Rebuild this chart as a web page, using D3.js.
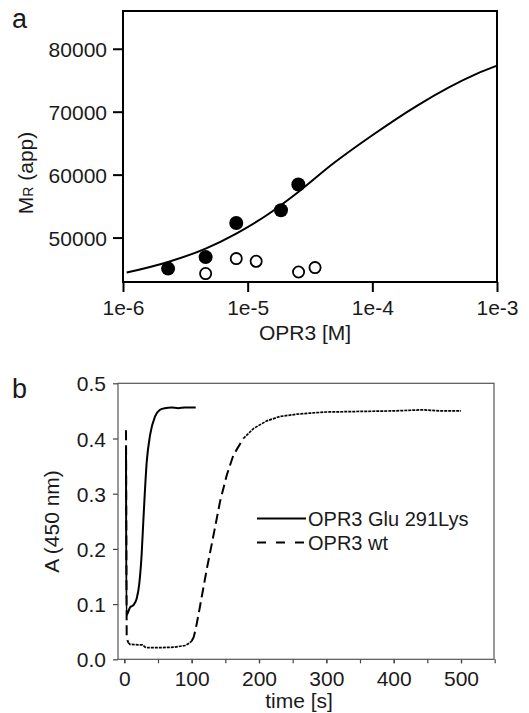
<!DOCTYPE html>
<html>
<head>
<meta charset="utf-8">
<script src="https://cdn.jsdelivr.net/npm/d3@7"></script>
<style>
  body { margin: 0; background: #fff; }
  svg { display: block; font-family: "Liberation Sans", Arial, sans-serif; }
  text { fill: #1a1a1a; }
</style>
</head>
<body>
<svg id="chart" width="529" height="713"></svg>
<script>
// ---- panel a data ----
const concTicks = [1e-6, 1e-5, 1e-4, 1e-3];
const concTickLabels = ["1e-6", "1e-5", "1e-4", "1e-3"];
const mrTicks = [50000, 60000, 70000, 80000];

const concFilled = [2.3e-6, 4.6e-6, 8.1e-6, 1.85e-5, 2.55e-5];
const mrFilled = [45070, 46900, 52320, 54340, 58430];

const concOpen = [4.6e-6, 8.1e-6, 1.17e-5, 2.56e-5, 3.47e-5];
const mrOpen = [44280, 46660, 46230, 44530, 45230];

const fitConc = [1.07e-6, 2.3e-6, 4.6e-6, 8.1e-6, 1.42e-5, 2.55e-5, 4.85e-5, 1e-4, 2.26e-4, 6.85e-4, 1e-3];
const fitMr = [44436, 46120, 48250, 50640, 53550, 57250, 61760, 66260, 70900, 76000, 77310];

// ---- panel b data ----
const timeTicks = [0, 100, 200, 300, 400, 500];
const timeMinor = [0, 50, 100, 150, 200, 250, 300, 350, 400, 450, 500, 550];
const absTicks = [0, 0.1, 0.2, 0.3, 0.4, 0.5];

const tMut = [2.5, 3, 8.5, 13.4, 18.4, 22.3, 25.8, 28.2, 33.3, 38.2, 45.6, 53, 60, 70, 80, 90, 100, 106];
const aMut = [0.385, 0.08, 0.094, 0.098, 0.110, 0.138, 0.192, 0.25, 0.358, 0.406, 0.440, 0.452, 0.455, 0.456, 0.455, 0.456, 0.456, 0.456];

const tWt = [2.5, 3.5, 6, 8.5, 27, 31, 35, 50, 75, 90, 95, 100, 103, 106, 110, 122.4, 132.3, 142.2, 152.2, 162, 176.8, 191.7, 211.6, 231.4, 256, 276, 300, 350, 400, 444, 470, 500];
const aWt = [0.415, 0.038, 0.030, 0.027, 0.026, 0.022, 0.021, 0.021, 0.022, 0.025, 0.028, 0.033, 0.040, 0.055, 0.080, 0.163, 0.224, 0.286, 0.334, 0.370, 0.400, 0.418, 0.432, 0.440, 0.444, 0.446, 0.448, 0.449, 0.450, 0.452, 0.450, 0.450];

const legendNames = ["OPR3 Glu 291Lys", "OPR3 wt"];

const svg = d3.select("#chart");
svg.append("rect").attr("width", 529).attr("height", 713).attr("fill", "#fff");

// ================= panel a =================
const ax = d3.scaleLog().domain([1e-6, 1e-3]).range([123, 497]);
const ay = d3.scaleLinear().domain([42940, 86000]).range([282, 11]);

const ga = svg.append("g");

// x axis
ga.append("g")
    .attr("transform", "translate(0,282)")
    .call(d3.axisBottom(ax).tickValues(concTicks).tickFormat((d, i) => concTickLabels[i]).tickSize(10).tickSizeOuter(0))
    .call(g => g.select(".domain").remove())
    .call(g => g.selectAll("line").attr("stroke", "#000").attr("stroke-width", 2))
    .call(g => g.selectAll("text").attr("font-size", 21).attr("dy", "0.95em").attr("fill", "#1a1a1a"));

// y axis
ga.append("g")
    .attr("transform", "translate(123,0)")
    .call(d3.axisLeft(ay).tickValues(mrTicks).tickFormat(d3.format("d")).tickSize(10).tickSizeOuter(0))
    .call(g => g.select(".domain").remove())
    .call(g => g.selectAll("line").attr("stroke", "#000").attr("stroke-width", 2))
    .call(g => g.selectAll("text").attr("font-size", 21).attr("x", -16).attr("dy", "0.36em").attr("fill", "#1a1a1a"));

// fit curve
ga.append("path")
    .datum(fitConc.map((c, i) => [c, fitMr[i]]))
    .attr("fill", "none")
    .attr("stroke", "#000")
    .attr("stroke-width", 2)
    .attr("d", d3.line().x(d => ax(d[0])).y(d => ay(d[1])).curve(d3.curveMonotoneX));

// open circles
ga.append("g").selectAll("circle")
    .data(concOpen.map((c, i) => [c, mrOpen[i]]))
    .join("circle")
    .attr("cx", d => ax(d[0]))
    .attr("cy", d => ay(d[1]))
    .attr("r", 5.6)
    .attr("fill", "#fff")
    .attr("stroke", "#000")
    .attr("stroke-width", 1.8);

// filled circles
ga.append("g").selectAll("circle")
    .data(concFilled.map((c, i) => [c, mrFilled[i]]))
    .join("circle")
    .attr("cx", d => ax(d[0]))
    .attr("cy", d => ay(d[1]))
    .attr("r", 7)
    .attr("fill", "#000");

// frame
ga.append("rect")
    .attr("x", 123).attr("y", 11).attr("width", 374).attr("height", 271)
    .attr("fill", "none").attr("stroke", "#000").attr("stroke-width", 2);

ga.append("text").attr("x", 305).attr("y", 340).attr("text-anchor", "middle").attr("font-size", 21).text("OPR3 [M]");

const ylabA = ga.append("text")
    .attr("transform", "translate(33,173) rotate(-90)")
    .attr("text-anchor", "middle")
    .attr("font-size", 21);
ylabA.append("tspan").text("M");
ylabA.append("tspan").attr("font-size", 14).text("R");
ylabA.append("tspan").text(" (app)");

svg.append("text").attr("x", 12).attr("y", 28).attr("font-size", 27).text("a");

// ================= panel b =================
const bx = d3.scaleLinear().domain([-9.4, 549]).range([118, 494]);
const by = d3.scaleLinear().domain([0, 0.5]).range([659.3, 383.3]);

const gb = svg.append("g");

gb.append("g")
    .attr("transform", "translate(0,659.3)")
    .call(d3.axisBottom(bx).tickValues(timeMinor).tickFormat("").tickSize(4).tickSizeOuter(0))
    .call(g => g.select(".domain").remove())
    .call(g => g.selectAll("line").attr("stroke", "#444").attr("stroke-width", 1.2));

gb.append("g")
    .attr("transform", "translate(0,659.3)")
    .call(d3.axisBottom(bx).tickValues(timeTicks).tickFormat(d3.format("d")).tickSize(4).tickSizeOuter(0))
    .call(g => g.select(".domain").remove())
    .call(g => g.selectAll("line").attr("stroke", "#444").attr("stroke-width", 1.2))
    .call(g => g.selectAll("text").attr("font-size", 21).attr("y", 12).attr("dy", "0.71em").attr("fill", "#1a1a1a"));

gb.append("g")
    .attr("transform", "translate(118,0)")
    .call(d3.axisLeft(by).tickValues(absTicks).tickFormat(d3.format(".1f")).tickSize(5).tickSizeOuter(0))
    .call(g => g.select(".domain").remove())
    .call(g => g.selectAll("line").attr("stroke", "#444").attr("stroke-width", 1.2))
    .call(g => g.selectAll("text").attr("font-size", 21).attr("x", -12).attr("dy", "0.36em").attr("fill", "#1a1a1a"));

gb.append("rect")
    .attr("x", 118).attr("y", 383.3).attr("width", 376).attr("height", 276)
    .attr("fill", "none").attr("stroke", "#555").attr("stroke-width", 1.2);

const lineB = d3.line().x(d => bx(d[0])).y(d => by(d[1]));

// wt trace: the flat parts were recorded densely, so their dashes look fine/dotted
const wt = tWt.map((t, i) => [t, aWt[i]]);
const wtParts = [
    { pts: wt.filter(d => d[0] <= 6), dash: "10,5" },
    { pts: wt.filter(d => d[0] >= 6 && d[0] <= 100), dash: "3,1" },
    { pts: wt.filter(d => d[0] >= 100 && d[0] <= 176.8), dash: "10,5" },
    { pts: wt.filter(d => d[0] >= 176.8), dash: "3,1" }
];
gb.append("g").selectAll("path")
    .data(wtParts)
    .join("path")
    .attr("fill", "none")
    .attr("stroke", "#000")
    .attr("stroke-width", d => d.dash === "3,1" ? 1.7 : 2)
    .attr("stroke-dasharray", d => d.dash)
    .attr("d", d => lineB(d.pts));

gb.append("path")
    .datum(tMut.map((t, i) => [t, aMut[i]]))
    .attr("fill", "none")
    .attr("stroke", "#000")
    .attr("stroke-width", 2)
    .attr("d", lineB.curve(d3.curveMonotoneX));

// legend
const leg = gb.append("g");
legendNames.forEach((name, i) => {
    const y = 518.5 + i * 24;
    leg.append("line")
        .attr("x1", 257).attr("x2", 306).attr("y1", y).attr("y2", y)
        .attr("stroke", "#000").attr("stroke-width", 2)
        .attr("stroke-dasharray", i === 1 ? "9,10" : null);
    leg.append("text").attr("x", 308).attr("y", y + 7.5).attr("font-size", 20).text(name);
});

gb.append("text").attr("x", 299).attr("y", 708).attr("text-anchor", "middle").attr("font-size", 21).text("time [s]");

gb.append("text")
    .attr("transform", "translate(59,521.5) rotate(-90)")
    .attr("text-anchor", "middle")
    .attr("font-size", 21)
    .text("A (450 nm)");

svg.append("text").attr("x", 12).attr("y", 398).attr("font-size", 27).text("b");
</script>
</body>
</html>
